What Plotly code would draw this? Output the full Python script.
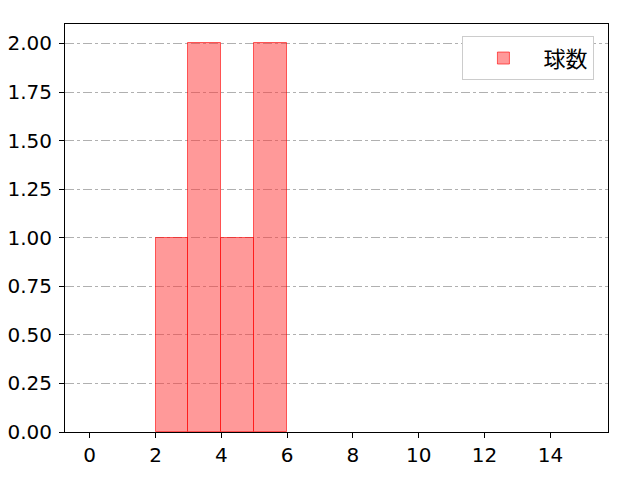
import plotly.graph_objects as go

# pitch counts per at-bat (one value per observation)
pitch_values = [2, 3, 3, 4, 5, 5]
series_name = "球数"
x_ticks = [0, 2, 4, 6, 8, 10, 12, 14]
y_ticks = [0, 0.25, 0.5, 0.75, 1.0, 1.25, 1.5, 1.75, 2.0]

fig = go.Figure()
fig.add_trace(go.Histogram(
    x=pitch_values,
    name=series_name,
    xbins=dict(start=0, end=16, size=1),
    marker=dict(color="rgba(255,51,51,0.5)",
                line=dict(color="rgba(255,0,0,0.6)", width=1)),
    showlegend=True,
))

# the page body adds an 8px offset, so margins are shifted to compensate
fig.update_layout(
    width=640, height=480,
    margin=dict(l=57, r=40, t=16, b=56),
    paper_bgcolor="white", plot_bgcolor="white",
    font=dict(family="DejaVu Sans, Noto Sans CJK JP, sans-serif", size=20, color="black"),
    bargap=0,
    showlegend=True,
    legend=dict(x=0.975, y=0.97, xanchor="right", yanchor="top",
                bordercolor="#cccccc", borderwidth=1, bgcolor="white",
                itemwidth=70, font=dict(family="Noto Sans CJK JP", size=22)),
)
fig.update_xaxes(range=[-0.75, 15.75], tickvals=x_ticks, showgrid=False,
                 showline=True, linecolor="black", linewidth=1, mirror=True,
                 ticks="outside", ticklen=5, tickcolor="black", zeroline=False,
                 automargin=False)
fig.update_yaxes(range=[0, 2.1], tickvals=y_ticks, tickformat=".2f",
                 showgrid=True, gridcolor="#b0b0b0", griddash="dashdot", gridwidth=1,
                 showline=True, linecolor="black", linewidth=1, mirror=True,
                 ticks="outside", ticklen=5, tickcolor="black", zeroline=False,
                 automargin=False, ticklabelstandoff=3)

fig.write_html("out.html")
